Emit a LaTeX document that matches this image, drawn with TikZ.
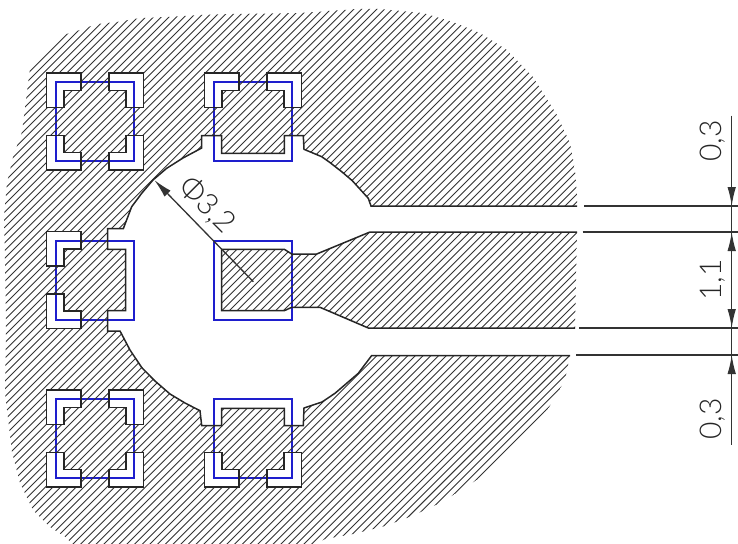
\documentclass[tikz,border=0pt]{standalone}
\usepackage{fontspec}
\usepackage{xcolor}
\usetikzlibrary{arrows.meta}
\newfontfamily\cadfont{Lato Light}
\definecolor{padblue}{RGB}{30,30,205}
\tikzset{
  hatchline/.style={line width=0.9pt,black!80},
  outline/.style={line width=1.5pt,black!85},
  padline/.style={line width=1.7pt,padblue},
  dimline/.style={line width=1.3pt,black!80},
  dimtip/.style={line width=1.3pt,black!80,-{Latex[length=19pt,width=8.5pt]}},
  dimlabel/.style={font=\cadfont\fontsize{30}{30}\selectfont,inner sep=0pt,black!85}
}
% one white L at a corner of a pad: centre x, centre y, side x, side y
\newcommand{\padcorner}[4]{
  ({#1+#3*48.5},{#2+#4*48.5}) -- ({#1+#3*14},{#2+#4*48.5}) -- ({#1+#3*14},{#2+#4*31})
  -- ({#1+#3*31},{#2+#4*31}) -- ({#1+#3*31},{#2+#4*14}) -- ({#1+#3*48.5},{#2+#4*14}) -- cycle
}
\newcommand{\allcorners}{
  \padcorner{95}{121.7}{-1}{-1} \padcorner{95}{121.7}{1}{-1}
  \padcorner{95}{121.7}{-1}{1} \padcorner{95}{121.7}{1}{1}
  \padcorner{253}{121.7}{-1}{-1} \padcorner{253}{121.7}{1}{-1}
  \padcorner{95}{280}{-1}{-1} \padcorner{95}{280}{-1}{1}
  \padcorner{95}{438.7}{-1}{-1} \padcorner{95}{438.7}{1}{-1}
  \padcorner{95}{438.7}{-1}{1} \padcorner{95}{438.7}{1}{1}
  \padcorner{253}{438.7}{-1}{1} \padcorner{253}{438.7}{1}{1}
}
% edge of the opening, slots included
\newcommand{\openingedge}{
  (577,206) -- (371,206) -- (368.3,198.3) -- (352.3,180.7) -- (341.7,171.7) -- (329.5,162.2)
  -- (321.7,156.7) -- (304,149.3) -- (303.3,135.7) -- (284.3,135.7) -- (284.3,153.3)
  -- (221.7,153.3) -- (221.7,135.7) -- (201.7,135.7) -- (201.7,148) -- (183,158) -- (166.7,168.3)
  -- (153,180) -- (141.7,193.3) -- (131.7,206.7) -- (123.3,228.7) -- (107.7,228.7)
  -- (107.7,249.3) -- (125.7,249.3) -- (125.7,310.7) -- (107.7,310.7) -- (107.7,331)
  -- (120,331) -- (130,350) -- (141.7,367.5) -- (155,381) -- (170,394) -- (185,403) -- (200,410.7)
  -- (201.7,425.7) -- (221.7,425.7) -- (221.7,408.3) -- (284.3,408.3) -- (284.3,425.7)
  -- (303.3,425.7) -- (304,408) -- (322,402) -- (335,393.3) -- (358.3,373.3) -- (371.7,355.5)
  -- (570,355.5)
}
\newcommand{\outeredge}{
  -- (565,380) -- (558,392) -- (548,409) -- (500,460) -- (478,479) -- (458,492) -- (440,503)
  -- (412,516) -- (385,526) -- (353,534) -- (325,539) -- (307,548) -- (75,548) -- (67,538)
  -- (50,527) -- (33,510) -- (20,483) -- (12,452) -- (5,393) -- (6,327) -- (5,260) -- (4,217)
  -- (7,183) -- (13,157) -- (22,132) -- (30,68) -- (63,35) -- (77,31) -- (97,24) -- (117,22)
  -- (140,18) -- (167,17) -- (200,15) -- (233,14) -- (300,13) -- (357,9) -- (380,9) -- (423,13)
  -- (453,22) -- (480,33) -- (507,50) -- (533,77) -- (557,115) -- (570,143) -- (575,170)
  -- (577,197) -- cycle
}
% middle pad with its track
\newcommand{\trackedge}{
  (577,232) -- (370,232) -- (316.7,254) -- (291.7,254) -- (284.3,249.3) -- (221.7,249.3)
  -- (221.7,310.7) -- (284.3,310.7) -- (291.7,307.3) -- (320,307.3) -- (368.3,328) -- (575,328)
}
\begin{document}
\begin{tikzpicture}[x=1pt,y=-1pt]
  \useasboundingbox (0,0) rectangle (738,543);

  \foreach \px/\py in {95/121.7,253/121.7,95/280.5,253/280.5,95/438.3,253/438.3}
    \draw[padline] ({\px-39.3},{\py-39.5}) rectangle ({\px+39.3},{\py+39.5});

  \begin{scope}[even odd rule]
    \clip \openingedge \outeredge \trackedge -- cycle \allcorners;
    \foreach \c in {1.1,8.8,...,1150}
      \draw[hatchline] (\c,0) -- (0,\c);
  \end{scope}

  \draw[outline] \openingedge;
  \draw[outline] \trackedge;
  \draw[outline] \allcorners;

  \coordinate (e1a) at (584,206);   \coordinate (e1b) at (738,206);
  \coordinate (e2a) at (582.5,232); \coordinate (e2b) at (738,232);
  \coordinate (e3a) at (579,328);   \coordinate (e3b) at (738,328);
  \coordinate (e4a) at (576,355);   \coordinate (e4b) at (738,355);
  \draw[dimline] (e1a) -- (e1b);
  \draw[dimline] (e2a) -- (e2b);
  \draw[dimline] (e3a) -- (e3b);
  \draw[dimline] (e4a) -- (e4b);

  \coordinate (dtop) at (731.7,115.7);
  \coordinate (dbot) at (731.7,445);
  \coordinate (t1) at (731.7,206);
  \coordinate (t2) at (731.7,232);
  \coordinate (t3) at (731.7,328);
  \coordinate (t4) at (731.7,355);
  \coordinate (b1) at (731.7,185);
  \coordinate (b2) at (731.7,252);
  \coordinate (b3) at (731.7,307);
  \coordinate (b4) at (731.7,376);
  \draw[dimline] (dtop) -- (dbot);
  \draw[dimtip] (b1) -- (t1);
  \draw[dimtip] (b2) -- (t2);
  \draw[dimtip] (b3) -- (t3);
  \draw[dimtip] (b4) -- (t4);

  \coordinate (rtip) at (154.3,180);
  \coordinate (rcen) at (253.3,281.7);
  \draw[dimtip] (rcen) -- (rtip);

  \node[dimlabel,rotate=90] (w1) at (713,141) {0,3};
  \node[dimlabel,rotate=90] (w2) at (713,280) {1,1};
  \node[dimlabel,rotate=90] (w3) at (713,419) {0,3};
  \node[dimlabel,rotate=-45] (dia) at (207,205) {Φ3,2};
\end{tikzpicture}
\end{document}
